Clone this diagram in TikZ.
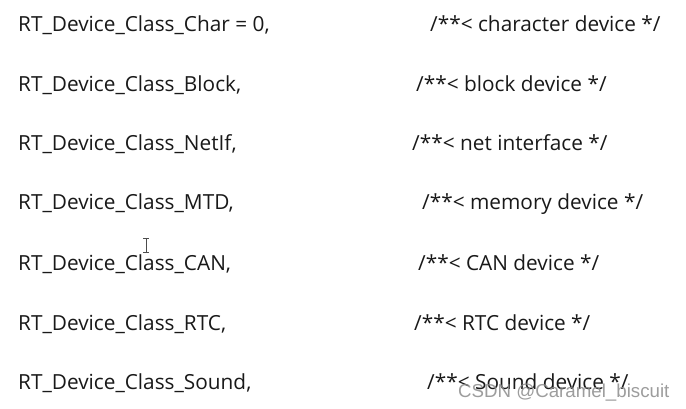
\documentclass[tikz,border=0pt]{standalone}
\usepackage{fontspec}
\setmainfont{Open Sans}
\newfontfamily\wmfont{Liberation Sans}
\begin{document}
\begin{tikzpicture}[x=1pt,y=-1pt,
  code/.style={anchor=base west,inner sep=0pt,font=\fontsize{20.8}{24}\selectfont,text=black!90},
  cmt/.style={code}]
\useasboundingbox[fill=white] (0,0) rectangle (686,409);
\node[code] (l1) at (18,32) {RT\_Device\_Class\_Char = 0,};
\node[cmt] (c1) at (430,32) {/**< character device */};
\node[code] (l2) at (18,92) {RT\_Device\_Class\_Block,};
\node[cmt] (c2) at (416,92) {/**< block device */};
\node[code] (l3) at (18,151) {RT\_Device\_Class\_NetIf,};
\node[cmt] (c3) at (412,151) {/**< net interface */};
\node[code] (l4) at (18,210) {RT\_Device\_Class\_MTD,};
\node[cmt] (c4) at (422,210) {/**< memory device */};
\node[code] (l5) at (18,270) {RT\_Device\_Class\_CAN,};
\node[cmt] (c5) at (418,270) {/**< CAN device */};
\node[code] (l6) at (18,330) {RT\_Device\_Class\_RTC,};
\node[cmt] (c6) at (414,330) {/**< RTC device */};
\node[code] (l7) at (18,389) {RT\_Device\_Class\_Sound,};
\node[cmt] (c7) at (427,389) {/**< Sound device */};
% text cursor
\draw[black!70,line width=0.8pt] (146,238) -- (146,252) (143,238) -- (149,238) (143,252) -- (149,252);
% watermark
\node[anchor=base west,inner sep=0pt,font=\wmfont\fontsize{18.7}{22}\selectfont,text=black!45,opacity=0.85] (wm) at (458,397) {CSDN @Caramel\_biscuit};
\end{tikzpicture}
\end{document}
